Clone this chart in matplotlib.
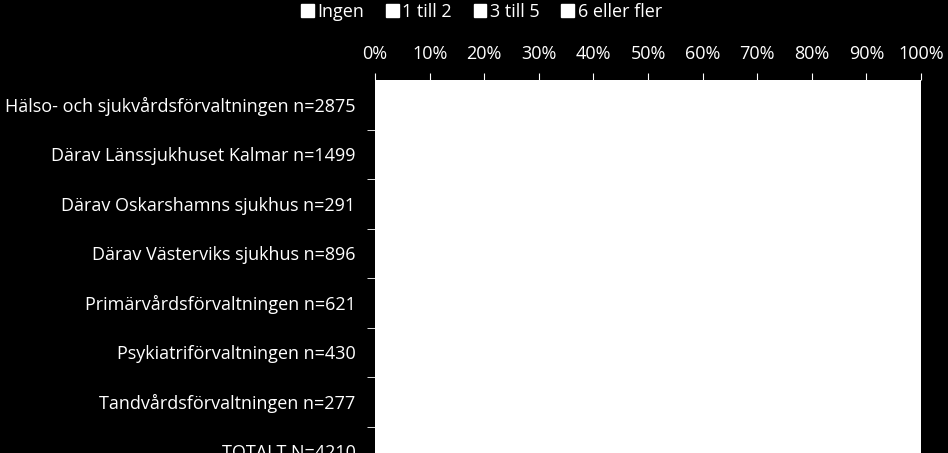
import matplotlib.pyplot as plt
from matplotlib.patches import Patch
import numpy as np

categories = ['Hälso- och sjukvårdsförvaltningen n=2875',
              'Därav Länssjukhuset Kalmar n=1499',
              'Därav Oskarshamns sjukhus n=291',
              'Därav Västerviks sjukhus n=896',
              'Primärvårdsförvaltningen n=621',
              'Psykiatriförvaltningen n=430',
              'Tandvårdsförvaltningen n=277',
              'TOTALT N=4210']
series = ['Ingen', '1 till 2', '3 till 5', '6 eller fler']
# bars are drawn white on white in the reference, so values are estimates
ingen = [0.45, 0.42, 0.50, 0.47, 0.52, 0.48, 0.55, 0.47]
en_tva = [0.30, 0.31, 0.28, 0.30, 0.28, 0.30, 0.27, 0.30]
tre_fem = [0.17, 0.18, 0.15, 0.16, 0.14, 0.15, 0.13, 0.16]
sex_fler = [0.08, 0.09, 0.07, 0.07, 0.06, 0.07, 0.05, 0.07]
values = [ingen, en_tva, tre_fem, sex_fler]

plt.rcParams['font.family'] = ['Open Sans', 'DejaVu Sans']

fig = plt.figure(figsize=(9.48, 4.53), dpi=100, facecolor='black')
ax = fig.add_axes([375/948, 1 - 476/453, 546/948, 396/453])
ax.set_facecolor('white')

y = np.arange(len(categories))
left = np.zeros(len(categories))
for name, vals in zip(series, values):
    ax.barh(y, vals, left=left, height=0.6, color='white', label=name)
    left += np.array(vals)

ax.set_xlim(0, 1)
ax.set_ylim(len(categories) - 0.5, -0.5)
ax.xaxis.tick_top()
ax.set_xticks(np.linspace(0, 1, 11))
ax.set_xticklabels([f'{int(v)}%' for v in np.linspace(0, 100, 11)])
ax.tick_params(axis='x', colors='white', labelcolor='white', length=5, labelsize=13, pad=7)

ax.set_yticks(y)
ax.set_yticklabels(categories)
ax.set_yticks(np.arange(len(categories)) + 0.5, minor=True)
ax.tick_params(axis='y', which='major', length=0, labelcolor='white', labelsize=13, pad=14)
ax.tick_params(axis='y', which='minor', length=6, color='white')

for s in ax.spines.values():
    s.set_visible(False)

handles = [Patch(facecolor='white', edgecolor='white') for _ in series]
fig.legend(handles, series, loc='upper center', bbox_to_anchor=(0.508, 1.03), ncol=4,
           frameon=False, labelcolor='white', fontsize=13, handlelength=0.7,
           handleheight=0.7, handletextpad=0.2, columnspacing=1.2)

fig.savefig('out.png', dpi=100, facecolor='black')
